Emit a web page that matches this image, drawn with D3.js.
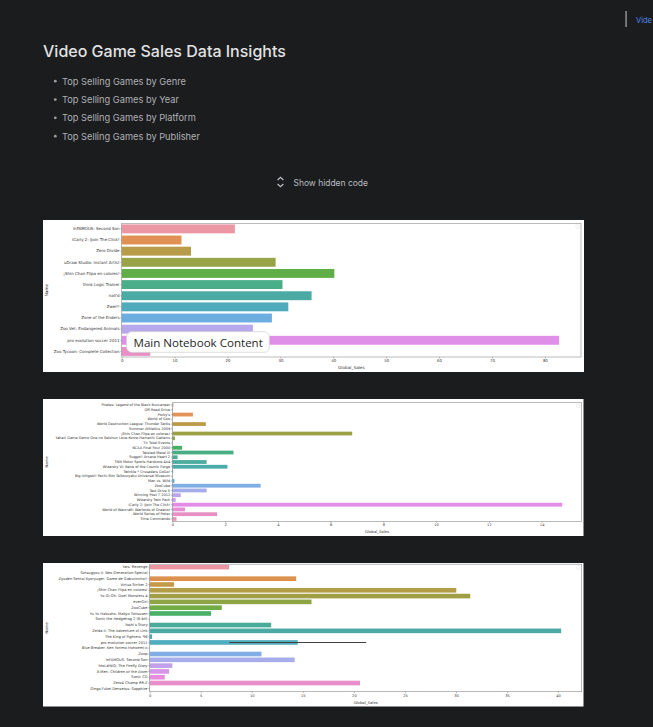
<!DOCTYPE html>
<html><head><meta charset="utf-8">
<script src="https://cdn.jsdelivr.net/npm/d3@7"></script>
<style>
html,body{margin:0;padding:0;background:#1b1c1e;overflow:hidden}
svg{display:block}
</style></head><body>
<svg id="page" width="653" height="727"></svg>
<script>
// ---------------- DATA ----------------
const pageTitle = "Video Game Sales Data Insights";
const bulletItems = ["Top Selling Games by Genre", "Top Selling Games by Year", "Top Selling Games by Platform", "Top Selling Games by Publisher"];
const toggleLabel = "Show hidden code";
const overlayLabel = "Main Notebook Content";
const navLabel = "Vide";

const chart1Names = ["inFAMOUS: Second Son", "iCarly 2: iJoin The Click!", "Zero Divide", "uDraw Studio: Instant Artist",
  "¡Shin Chan Flipa en colores!", "think Logic Trainer", "nail'd", "Zwei!!", "Zone of the Enders",
  "Zoo Vet: Endangered Animals", "pro evolution soccer 2011", "Zoo Tycoon: Complete Collection"];
const chart1Sales = [21.4, 11.3, 13.1, 29.1, 40.2, 30.4, 35.9, 31.5, 28.4, 24.8, 82.7, 5.4];
const chart1Ticks = [0, 10, 20, 30, 40, 50, 60, 70, 80];

const chart2Names = ["Pirates: Legend of the Black Buccaneer", "Off-Road Drive", "Porky's", "World of Goo",
  "World Destruction League: Thunder Tanks", "Summer Athletics 2009", "¡Shin Chan Flipa en colores!",
  "Yahari Game Demo One no Seishun Love-Kome Hamachi Gattenu", "Tír Total Events", "NCAA Final Four 2000",
  "Twisted Metal III", "Suggoi! Arcana Heart 2", "TNN Motor Sports Hardcore 4x4", "Wizardry VI: Bane of the Cosmic Forge",
  "Twinkle * Crusaders GoGo!", "Big Ichigeki! Pachi-Slot Taikouryaku Universal Museum", "Man vs. Wild", "ZooCube",
  "Test Drive 5", "Winning Post 7 2012", "Wizardry Twin Pack", "iCarly 2: iJoin The Click!",
  "World of Warcraft: Warlords of Draenor", "World Series of Poker", "Time Commando"];
const chart2Sales = [0.04, 0.02, 0.78, 0.01, 1.27, 0.01, 6.82, 0.10, 0.01, 0.37, 2.32, 0.20, 1.30, 2.09,
  0.03, 0.01, 0.08, 3.35, 1.30, 0.32, 0.13, 14.78, 0.48, 1.70, 0.16];
const chart2Ticks = [0, 2, 4, 6, 8, 10, 12, 14];

const chart3Names = ["Yars' Revenge", "Sotsugyou II: Neo Generation Special", "Zyuden Sentai Kyoryuger: Game de Gaburincho!!",
  "Virtua Striker 2", "¡Shin Chan Flipa en colores!", "Yu-Gi-Oh: Duel Monsters 4", "everGirl", "ZooCube",
  "Yu Yu Hakusho: Makyo Toitsusen", "Sonic the Hedgehog 2 (8-bit)", "Yoshi's Story", "Zelda II: The Adventure of Link",
  "The King of Fighters '96", "pro evolution soccer 2011", "Blue Breaker: Ken Yorimo Hohoemi o", "Zoop",
  "inFAMOUS: Second Son", "htoL#NiQ: The Firefly Diary", "X-Men: Children of the Atom", "Sonic CD",
  "Zero4 Champ RR-Z", "Ginga Fukei Densetsu: Sapphire"];
const chart3Sales = [7.78, 0.02, 14.35, 2.39, 30.03, 31.4, 15.85, 7.06, 6.01, 0.01, 11.9, 40.3, 0.23, 14.5,
  0.01, 10.95, 14.2, 2.22, 1.9, 1.47, 20.6, 0.03];
const chart3ErrName = ["pro evolution soccer 2011"];
const chart3ErrLow = [7.8];
const chart3ErrHigh = [21.2];
const chart3Ticks = [0, 5, 10, 15, 20, 25, 30, 35, 40];

// ---------------- COLOURS (seaborn husl palette, l=.7, desat .75) ----------------
const M = [[3.2406, -1.5372, -0.4986], [-0.9689, 1.8758, 0.0415], [0.0557, -0.2040, 1.0570]];
function maxChroma(L, H) {
  const hr = H * Math.PI / 180, s = Math.sin(hr), c = Math.cos(hr);
  const sub1 = Math.pow(L + 16, 3) / 1560896;
  const sub2 = sub1 > 0.008856 ? sub1 : L / 903.3;
  let res = Infinity;
  for (const [m1, m2, m3] of M) {
    const top = (0.99915 * m1 + 1.05122 * m2 + 1.14460 * m3) * sub2;
    const rb = 0.86330 * m3 - 0.17266 * m2;
    const lb = 0.12949 * m3 - 0.38848 * m1;
    const bottom = (rb * s + lb * c) * sub2;
    for (const t of [0, 1]) {
      const C = L * (top - 1.05122 * t) / (bottom + 0.17266 * s * t);
      if (C > 0 && C < res) res = C;
    }
  }
  return res;
}
function husl2rgb(H, S, L) {
  const C = maxChroma(L, H) / 100 * S;
  const hr = H * Math.PI / 180;
  const U = Math.cos(hr) * C, V = Math.sin(hr) * C;
  const t = (L + 16) / 116;
  const Y = t * t * t > 0.008856 ? t * t * t : (116 * t - 16) / 903.3;
  const vU = U / (13 * L) + 0.19784, vV = V / (13 * L) + 0.46834;
  const X = -(9 * Y * vU) / ((vU - 4) * vV - vU * vV);
  const Z = (9 * Y - 15 * vV * Y - vV * X) / (3 * vV);
  return M.map(r => {
    let v = r[0] * X + r[1] * Y + r[2] * Z;
    v = v <= 0.0031308 ? 12.92 * v : 1.055 * Math.pow(v, 1 / 2.4) - 0.055;
    return Math.min(1, Math.max(0, v));
  });
}
function huslPalette(n) {
  const out = [];
  for (let i = 0; i < n; i++) {
    const h = ((i / n + 0.01) % 1) * 359;
    const [r, g, b] = husl2rgb(h, 0.9 * 99, 0.7 * 99);
    const c = d3.hsl(d3.rgb(r * 255, g * 255, b * 255));
    c.s *= 0.75;
    out.push(c.formatHex());
  }
  return out;
}

// ---------------- HELPERS ----------------
const svg = d3.select("#page");
function fitWidth(sel, w) {
  const cur = sel.node().getComputedTextLength();
  const fs = parseFloat(sel.attr("font-size"));
  if (cur > 0) sel.attr("font-size", fs * w / cur);
}

// ---------------- NOTEBOOK HEADER ----------------
svg.append("rect").attr("width", 653).attr("height", 727).attr("fill", "#1b1c1e");

const title = svg.append("text").attr("x", 43).attr("y", 56.5)
  .attr("font-family", "Inter, Roboto, sans-serif").attr("font-size", 17).attr("font-weight", 500)
  .attr("fill", "#e2e2e2").text(pageTitle);
fitWidth(title, 243);

const bulletY = d3.scaleLinear().domain([0, 3]).range([84.5, 139.5]);
bulletItems.forEach((b, i) => {
  svg.append("circle").attr("cx", 55.3).attr("cy", bulletY(i) - 3.3).attr("r", 1.4).attr("fill", "#9a9da1");
  const t = svg.append("text").attr("x", 62).attr("y", bulletY(i))
    .attr("font-family", "Inter, Roboto, sans-serif").attr("font-size", 10.5)
    .attr("fill", "#aeb1b5").text(b);
  fitWidth(t, [124, 117, 134, 138][i]);
});

// toggle
svg.append("path").attr("d", "M277.6,180 L280.5,177.3 L283.4,180 M277.6,184 L280.5,186.7 L283.4,184")
  .attr("fill", "none").attr("stroke", "#b9bcc0").attr("stroke-width", 1.3);
const tg = svg.append("text").attr("x", 293.5).attr("y", 185.6)
  .attr("font-family", "Inter, Roboto, sans-serif").attr("font-size", 10.5)
  .attr("fill", "#b9bcc0").text(toggleLabel);
fitWidth(tg, 74.5);

// nav top right
svg.append("rect").attr("x", 625.3).attr("y", 11).attr("width", 1.6).attr("height", 16).attr("fill", "#8a8a8a");
const nav = svg.append("text").attr("x", 636).attr("y", 23).attr("font-family", "Inter, Roboto, sans-serif")
  .attr("font-size", 10.5).attr("fill", "#4f86e8").text(navLabel);
fitWidth(nav, 16);

// ---------------- CHARTS ----------------
function drawChart(cfg, names, values, ticks, err) {
  const g = svg.append("g");
  g.append("rect").attr("x", cfg.ix).attr("y", cfg.iy).attr("width", cfg.iw).attr("height", cfg.ih).attr("fill", "#ffffff");
  const x = d3.scaleLinear().domain([0, d3.max(values) * 1.05]).range([cfg.l, cfg.r]);
  const y = d3.scaleBand().domain(d3.range(names.length)).range([cfg.t, cfg.b]).paddingInner(0.2).paddingOuter(0.1);
  const colors = huslPalette(names.length);
  g.selectAll("rect.bar").data(values).join("rect").attr("class", "bar")
    .attr("x", x(0)).attr("y", (d, i) => y(i))
    .attr("width", d => x(d) - x(0)).attr("height", y.bandwidth())
    .attr("fill", (d, i) => colors[i]);
  if (err) {
    err.names.forEach((nm, k) => {
      const i = names.indexOf(nm);
      const cy = y(i) + y.bandwidth() / 2;
      g.append("line").attr("x1", x(err.low[k])).attr("x2", x(err.high[k])).attr("y1", cy).attr("y2", cy)
        .attr("stroke", "#424242").attr("stroke-width", 1.1);
    });
  }
  // spines
  g.append("rect").attr("x", cfg.l).attr("y", cfg.t).attr("width", cfg.r - cfg.l).attr("height", cfg.b - cfg.t)
    .attr("fill", "none").attr("stroke", "#8c8c8c").attr("stroke-width", 0.6);
  // empty legend box
  g.append("rect").attr("x", cfg.r - 5).attr("y", cfg.t + 1.6).attr("width", 3.4).attr("height", 3.4).attr("rx", 0.6)
    .attr("fill", "#fff").attr("stroke", "#dcdcdc").attr("stroke-width", 0.5);

  const xa = g.append("g").attr("transform", `translate(0,${cfg.b})`)
    .call(d3.axisBottom(x).tickValues(ticks).tickSize(1.5).tickPadding(1).tickFormat(d3.format("d")));
  xa.select(".domain").remove();
  xa.selectAll("line").attr("stroke", "#777").attr("stroke-width", 0.5);
  xa.selectAll("text").attr("font-family", "DejaVu Sans, sans-serif").attr("font-size", cfg.xfs).attr("fill", "#333");

  const ya = g.append("g").attr("transform", `translate(${cfg.l},0)`)
    .call(d3.axisLeft(y).tickSize(1.3).tickPadding(0.9).tickFormat(i => names[i]));
  ya.select(".domain").remove();
  ya.selectAll("line").attr("stroke", "#777").attr("stroke-width", 0.5);
  ya.selectAll("text").attr("font-family", "DejaVu Sans, sans-serif").attr("font-size", cfg.yfs).attr("fill", "#333");

  g.append("text").attr("x", (cfg.l + cfg.r) / 2).attr("y", cfg.xly).attr("text-anchor", "middle")
    .attr("font-family", "DejaVu Sans, sans-serif").attr("font-size", cfg.lfs).attr("fill", "#333").text("Global_Sales");
  g.append("text").attr("transform", `translate(${cfg.ylx},${(cfg.t + cfg.b) / 2}) rotate(-90)`)
    .attr("text-anchor", "middle").attr("dy", "0.35em")
    .attr("font-family", "DejaVu Sans, sans-serif").attr("font-size", cfg.lfs).attr("fill", "#333").text("Name");
  return g;
}

drawChart({ix: 43, iy: 220, iw: 541, ih: 152, l: 121.7, r: 581, t: 223.3, b: 357, xfs: 3.9, yfs: 4.0, lfs: 4.2, xly: 369.2, ylx: 46.7},
  chart1Names, chart1Sales, chart1Ticks, null);
drawChart({ix: 43, iy: 399, iw: 540.5, ih: 137, l: 172.3, r: 581.7, t: 402.7, b: 521.3, xfs: 3.6, yfs: 3.5, lfs: 3.8, xly: 532.6, ylx: 46.7},
  chart2Names, chart2Sales, chart2Ticks, null);
drawChart({ix: 43, iy: 563, iw: 540.5, ih: 143.5, l: 149.7, r: 581.7, t: 564.2, b: 691.7, xfs: 3.6, yfs: 3.6, lfs: 3.8, xly: 703.6, ylx: 46.7},
  chart3Names, chart3Sales, chart3Ticks, {names: chart3ErrName, low: chart3ErrLow, high: chart3ErrHigh});

// overlay label on first chart
svg.append("rect").attr("x", 126.7).attr("y", 331.7).attr("width", 142.6).attr("height", 20.6).attr("rx", 5)
  .attr("fill", "#ffffff").attr("stroke", "#d4d4d4").attr("stroke-width", 0.8);
const ov = svg.append("text").attr("x", 133.5).attr("y", 346.6)
  .attr("font-family", "'Open Sans', 'Noto Sans', sans-serif").attr("font-size", 12)
  .attr("fill", "#1f1f1f").text(overlayLabel);
fitWidth(ov, 129.5);
</script>
</body></html>
